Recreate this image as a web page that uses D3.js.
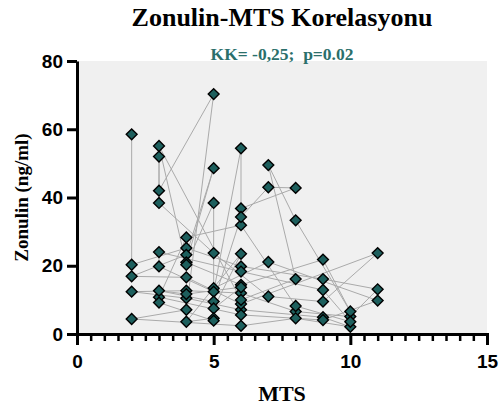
<!DOCTYPE html>
<html>
<head>
<meta charset="utf-8">
<script src="https://cdn.jsdelivr.net/npm/d3@7"></script>
<style>
  body { margin: 0; background: #fff; }
  svg { display: block; }
</style>
</head>
<body>
<svg></svg>
<script>
// data in sheet order, lines connect consecutive rows
var mts = [2, 2, 4, 6, 9, 11, 10, 8, 6, 4, 2, 4, 6, 9, 10, 8, 6, 2, 4, 5,
  3, 3, 3, 5, 7, 9, 11, 6, 4, 2, 4, 5, 4, 6, 9, 10, 8, 7, 8, 6,
  3, 4, 5, 5, 7, 11, 9, 6, 3, 4, 6, 8, 10, 9, 6, 3, 3, 5, 6, 6,
  8, 7, 6, 5, 3, 4, 6, 5, 6, 4, 5, 5, 3];
var zonulin = [58.5, 20.3, 25.2, 19.8, 16.1, 13.1, 5.1, 6.6, 12, 12.7, 12.4, 10.5, 7.1, 4.9, 2.1, 4.6, 2.4, 4.4, 7.1, 70.3,
  42, 52, 38.4, 23.7, 11, 9.5, 23.7, 8.8, 16.6, 16.9, 23.2, 48.6, 21, 14.4, 21.8, 6.6, 33.3, 49.5, 16.1, 10,
  55.1, 20.3, 38.4, 13.4, 21.1, 9.8, 4.1, 5.6, 10.8, 28.3, 31.9, 8.2, 3.6, 12.9, 18.3, 24, 19.8, 12.4, 54.4, 36.8,
  42.8, 43, 34.3, 9.5, 12.7, 11.7, 13.7, 7.5, 23.5, 3.6, 4.6, 3.9, 9.2];
var xTicks = [0, 5, 10, 15];
var yTicks = [0, 20, 40, 60, 80];

var width = 501, height = 412;
var margin = {top: 61, right: 14, bottom: 78, left: 77};

var svg = d3.select("svg").attr("width", width).attr("height", height);

var x = d3.scaleLinear().domain([0, 15]).range([margin.left, width - margin.right]);
var y = d3.scaleLinear().domain([0, 80]).range([height - margin.bottom, margin.top]);

var pts = mts.map(function(d, i) { return {x: d, y: zonulin[i]}; });

// plot background
svg.append("rect")
  .attr("x", x(0)).attr("y", y(80))
  .attr("width", x(15) - x(0)).attr("height", y(0) - y(80))
  .attr("fill", "#f0f0f0");

// connecting lines
svg.append("path")
  .datum(pts)
  .attr("fill", "none")
  .attr("stroke", "#aaaaaa")
  .attr("stroke-width", 1)
  .attr("d", d3.line().x(function(d){ return x(d.x); }).y(function(d){ return y(d.y); }));

// diamonds
svg.selectAll(".pt")
  .data(pts).enter()
  .append("path")
  .attr("class", "pt")
  .attr("transform", function(d){ return "translate(" + x(d.x) + "," + y(d.y) + ")"; })
  .attr("d", d3.symbol().type(d3.symbolDiamond2).size(75))
  .attr("fill", "#1d5f5d")
  .attr("stroke", "#000")
  .attr("stroke-width", 1.4);

// x axis
var xAxis = svg.append("g")
  .attr("transform", "translate(0," + y(0) + ")")
  .call(d3.axisBottom(x).tickValues(d3.range(0, 15.01, 0.5)).tickSize(7).tickFormat(""));
xAxis.selectAll(".tick line").attr("stroke", "#000").attr("stroke-width", 2.5);
xAxis.selectAll(".tick").filter(function(d){ return d % 5 === 0; }).select("line").attr("y2", 11).attr("stroke-width", 3);
xAxis.select(".domain").attr("stroke", "#000").attr("stroke-width", 3);

var xLabels = svg.append("g")
  .attr("transform", "translate(0," + y(0) + ")")
  .call(d3.axisBottom(x).tickValues(xTicks).tickSize(0).tickPadding(21));
xLabels.select(".domain").remove();
xLabels.selectAll("text")
  .attr("font-family", "Liberation Sans, Arial, sans-serif")
  .attr("font-weight", "bold").attr("font-size", 19).attr("fill", "#000");

// y axis
var yAxis = svg.append("g")
  .attr("transform", "translate(" + x(0) + ",0)")
  .call(d3.axisLeft(y).tickValues(yTicks).tickSize(10).tickPadding(4).tickSizeOuter(0));
yAxis.select(".domain").attr("stroke", "#000").attr("stroke-width", 3);
yAxis.selectAll(".tick line").attr("stroke", "#000").attr("stroke-width", 3);
yAxis.selectAll("text")
  .attr("font-family", "Liberation Sans, Arial, sans-serif")
  .attr("font-weight", "bold").attr("font-size", 19).attr("fill", "#000");

// titles
svg.append("text")
  .attr("x", 282).attr("y", 26)
  .attr("text-anchor", "middle")
  .attr("font-family", "Liberation Serif, Times New Roman, serif")
  .attr("font-weight", "bold").attr("font-size", 26)
  .text("Zonulin-MTS Korelasyonu");

svg.append("text")
  .attr("x", 282).attr("y", 60)
  .attr("text-anchor", "middle")
  .attr("font-family", "Liberation Serif, Times New Roman, serif")
  .attr("font-weight", "bold").attr("font-size", 17.5)
  .attr("fill", "#2b6f6b")
  .attr("xml:space", "preserve")
  .text("KK= -0,25;  p=0.02");

svg.append("text")
  .attr("x", 282).attr("y", 401)
  .attr("text-anchor", "middle")
  .attr("font-family", "Liberation Serif, Times New Roman, serif")
  .attr("font-weight", "bold").attr("font-size", 22)
  .text("MTS");

svg.append("text")
  .attr("transform", "translate(28," + (y(40)) + ")rotate(-90)")
  .attr("text-anchor", "middle")
  .attr("font-family", "Liberation Serif, Times New Roman, serif")
  .attr("font-weight", "bold").attr("font-size", 19)
  .text("Zonulin (ng/ml)");
</script>
</body>
</html>
